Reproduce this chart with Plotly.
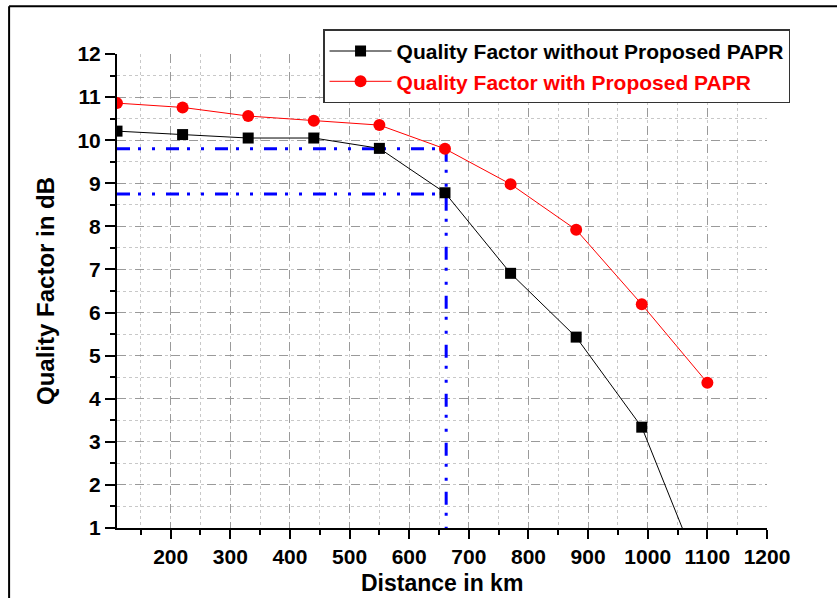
import plotly.graph_objects as go

distance = [110, 220, 330, 440, 550, 660, 770, 880, 990, 1100]
q_without = [10.21, 10.13, 10.05, 10.05, 9.81, 8.78, 6.91, 5.43, 3.34, -0.45]
q_with = [10.86, 10.76, 10.56, 10.45, 10.35, 9.8, 8.98, 7.92, 6.19, 4.37]

ref_x = [110, 662]
ref_y = [9.8, 8.75]

name_without = "Quality Factor without Proposed PAPR"
name_with = "Quality Factor with Proposed PAPR"
x_title = "Distance in km"
y_title = "Quality Factor in dB"

FONT = "Liberation Sans, Arial, sans-serif"

fig = go.Figure()

blue_dash = "13px,8px,3px,11px,3px,11px"
for yv in ref_y:
    fig.add_trace(go.Scatter(x=ref_x, y=[yv, yv], mode="lines",
                             line=dict(color="#0000ff", width=3, dash=blue_dash),
                             showlegend=False, hoverinfo="skip"))
fig.add_trace(go.Scatter(x=[ref_x[1], ref_x[1]], y=[ref_y[0], 1], mode="lines",
                         line=dict(color="#0000ff", width=3, dash=blue_dash),
                         showlegend=False, hoverinfo="skip"))

fig.add_trace(go.Scatter(x=distance, y=q_without, mode="lines+markers",
                         name="<b>" + name_without + "</b>",
                         line=dict(color="black", width=1),
                         marker=dict(symbol="square", size=11, color="black")))
fig.add_trace(go.Scatter(x=distance, y=q_with, mode="lines+markers",
                         name="<b><span style='color:red'>" + name_with + "</span></b>",
                         line=dict(color="red", width=1),
                         marker=dict(symbol="circle", size=12, color="red")))

axis_common = dict(
    showline=True, linecolor="black", linewidth=2,
    ticks="outside", tickcolor="black", tickwidth=2,
    showgrid=True, gridcolor="#9a9a9a", gridwidth=1, griddash="dash",
    zeroline=False, mirror=False, automargin=False,
    tickfont=dict(family=FONT, size=21, color="black"),
)

fig.update_xaxes(**axis_common, range=[110, 1200], tickmode="array",
                 tickvals=list(range(200, 1201, 100)),
                 ticktext=["<b>%d</b>" % v for v in range(200, 1201, 100)], ticklen=9,
                 minor=dict(dtick=50, tick0=0, ticks="outside", ticklen=5, tickwidth=2,
                            tickcolor="black", showgrid=True, gridcolor="#c8c8c8",
                            griddash="dot", gridwidth=1))
fig.update_yaxes(**axis_common, range=[1, 12], tickmode="array",
                 tickvals=list(range(1, 13)),
                 ticktext=["<b>%d</b>" % v for v in range(1, 13)], ticklen=10,
                 minor=dict(dtick=0.5, tick0=0, ticks="outside", ticklen=5, tickwidth=2,
                            tickcolor="black", showgrid=True, gridcolor="#c8c8c8",
                            griddash="dot", gridwidth=1))

# axis titles
fig.add_annotation(text="<b>" + x_title + "</b>", xref="paper", yref="paper",
                   x=0.5, y=-0.1465, xanchor="center", yanchor="bottom", showarrow=False,
                   borderpad=0, font=dict(family=FONT, size=23, color="black"))
fig.add_annotation(text="<b>" + y_title + "</b>", xref="paper", yref="paper",
                   x=-0.1108, y=0.5, xanchor="center", yanchor="middle", showarrow=False,
                   textangle=-90, font=dict(family=FONT, size=24, color="black"))

# outer frame lines
fig.add_shape(type="line", xref="paper", yref="paper", x0=-0.166, x1=1.2, y0=1.101, y1=1.101,
              line=dict(color="black", width=2))
fig.add_shape(type="line", xref="paper", yref="paper", x0=-0.166, x1=-0.166, y0=1.101, y1=-0.2,
              line=dict(color="black", width=2))

fig.update_layout(
    width=837, height=598,
    margin=dict(l=117, r=70, t=54, b=70),
    plot_bgcolor="white", paper_bgcolor="white",
    font=dict(family=FONT, color="black"),
    legend=dict(x=0.317, y=1.052, xanchor="left", yanchor="top",
                bgcolor="white", bordercolor="#333333", borderwidth=1.5,
                font=dict(family=FONT, size=21, color="black"),
                itemwidth=62, tracegroupgap=0),
)

fig.write_html("out.html")
